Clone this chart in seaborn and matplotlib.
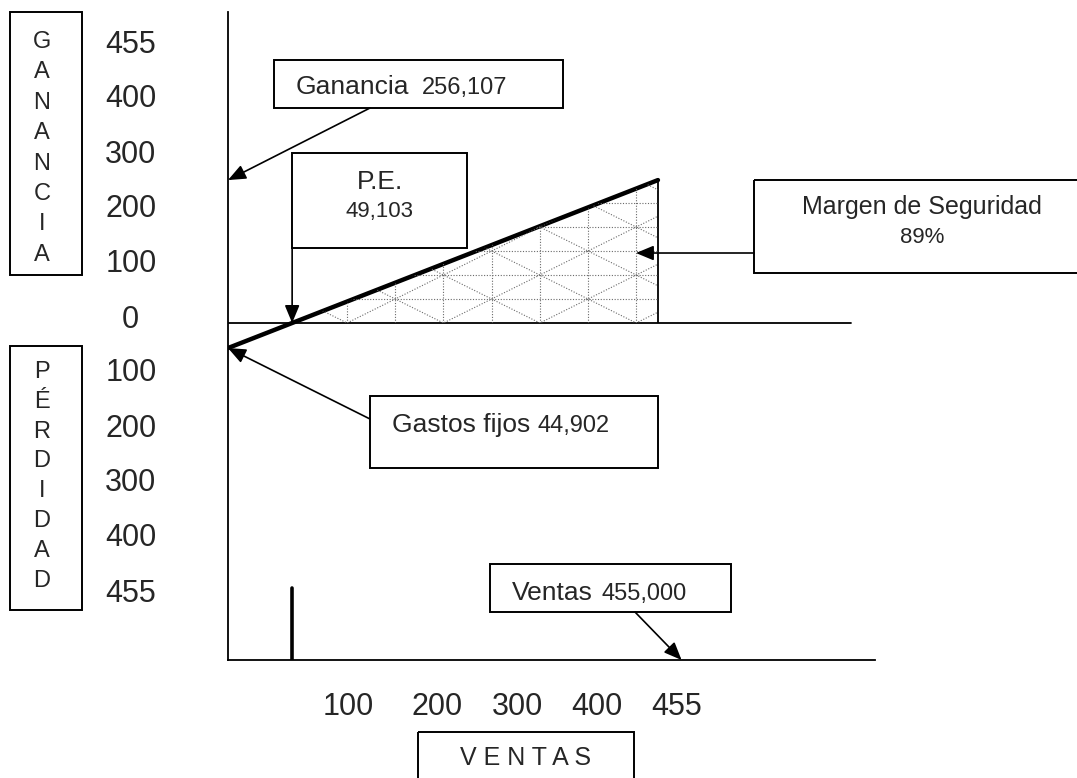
import numpy as np
import matplotlib
matplotlib.use("Agg")
import matplotlib.pyplot as plt
import seaborn as sns
from matplotlib.patches import Rectangle

# Datos del grafico (miles de pesos)
ventas = [0, 455]                  # ventas
resultado = [-44.902, 256.107]     # resultado: -gastos fijos ... ganancia
etiqueta_ganancia = "256,107"
etiqueta_pe = "49,103"
etiqueta_gastos = "44,902"
etiqueta_ventas = "455,000"
margen_seguridad = "89%"

ytick_labels = ["455", "400", "300", "200", "100", "0", "100", "200", "300", "400", "455"]
ytick_pos = [503.6, 406.8, 308.2, 209.7, 111.1, 12.5, -84.2, -182.8, -279.6, -379.9, -478.5]
xtick_labels = ["100", "200", "300", "400", "455"]
xtick_pos = [127, 221, 306, 390, 475]

# punto de equilibrio sobre la recta
pe = np.interp(0, resultado, ventas)

sns.set_theme(style="white")
plt.rcParams["font.family"] = ["Liberation Sans", "DejaVu Sans"]

fig = plt.figure(figsize=(10.77, 7.78), dpi=100)
ax = fig.add_axes([228 / 1077, 118 / 778, 647 / 1077, 648 / 778])
ax.set_facecolor("none")

# recta de resultado
sns.lineplot(x=ventas, y=resultado, ax=ax, color="black", linewidth=3.2)
ax.axhline(0, xmin=0, xmax=0.963, color="black", lw=1.3)
ax.vlines(ventas[-1], 0, resultado[-1], color="black", lw=1.3)
ax.axvline(pe, ymin=0, ymax=72 / 648, color="black", lw=2.6)

# area del margen de seguridad (trama punteada)
xs = np.array([pe, ventas[-1]])
area = ax.fill_between(xs, np.interp(xs, ventas, resultado), 0, facecolor="none", lw=0)
clip = area.get_paths()[0]
step_x, step_y, x0 = 51, 43, 126
trama = dict(color="#6a6a6a", lw=0.8, ls=(0, (1, 1.5)))
xx = np.array([0, ventas[-1]])
for k in range(1, 7):
    ln, = ax.plot(xx, [k * step_y] * 2, **trama)
    ln.set_clip_path(clip, ax.transData)
for i in range(0, 7):
    ln, = ax.plot([x0 + i * step_x] * 2, [0, resultado[-1]], **trama)
    ln.set_clip_path(clip, ax.transData)
s = step_y / step_x
for i in range(-6, 9):
    xi = x0 + i * 2 * step_x
    for sign in (1, -1):
        ln, = ax.plot(xx, sign * s * (xx - xi), **trama)
        ln.set_clip_path(clip, ax.transData)

ax.set_xlim(0, 684.7)
ax.set_ylim(-603.9, 557.3)
for side in ["top", "right"]:
    ax.spines[side].set_visible(False)
for side in ["left", "bottom"]:
    ax.spines[side].set_color("black")
    ax.spines[side].set_linewidth(1.3)

ax.set_yticks(ytick_pos, ytick_labels, fontsize=22)
ax.tick_params(axis="y", length=0, pad=70)
for lab in ax.get_yticklabels():
    lab.set_ha("center")
ax.set_xticks(xtick_pos, xtick_labels, fontsize=22)
ax.tick_params(axis="x", length=0, pad=23)
ax.set_xlabel("")
ax.set_ylabel("")

# capa de cuadros de texto en pixeles
ov = fig.add_axes([0, 0, 1, 1], zorder=3)
ov.set_xlim(0, 1077)
ov.set_ylim(778, 0)
ov.axis("off")

def caja(x, y, w, h):
    ov.add_patch(Rectangle((x, y), w, h, fill=False, edgecolor="black", lw=1.4, clip_on=False))

caja(10, 12, 72, 263)
for i, ch in enumerate("GANANCIA"):
    ov.text(42, 48 + i * 30.4, ch, ha="center", va="baseline", fontsize=17)
caja(10, 346, 72, 264)
for i, ch in enumerate("PÉRDIDAD"):
    ov.text(42, 378 + i * 29.8, ch, ha="center", va="baseline", fontsize=17)

caja(418, 732, 216, 60)
ov.text(526, 758, "V E N T A S", ha="center", va="center", fontsize=18)

caja(274, 60, 289, 48)
ov.text(296, 94, "Ganancia", va="baseline", fontsize=19)
ov.text(422, 94, etiqueta_ganancia, va="baseline", fontsize=17)

caja(292, 153, 175, 95)
ov.text(380, 182, "P.E.", ha="center", va="center", fontsize=19)
ov.text(380, 211, etiqueta_pe, ha="center", va="center", fontsize=16)

caja(754, 180, 340, 93)
ov.text(922, 207, "Margen de Seguridad", ha="center", va="center", fontsize=18)
ov.text(922, 237, margen_seguridad, ha="center", va="center", fontsize=16)

caja(370, 396, 288, 72)
ov.text(392, 432, "Gastos fijos", va="baseline", fontsize=19)
ov.text(538, 432, etiqueta_gastos, va="baseline", fontsize=17)

caja(490, 564, 241, 48)
ov.text(512, 600, "Ventas", va="baseline", fontsize=19)
ov.text(602, 600, etiqueta_ventas, va="baseline", fontsize=17)

# flechas
flecha = dict(arrowstyle="-|>,head_length=0.6,head_width=0.25", color="black",
              lw=1.2, mutation_scale=18, shrinkA=0, shrinkB=0)
ax.annotate("", xy=(0, resultado[-1]), xytext=(370, 108), textcoords=ov.transData,
            arrowprops=flecha, annotation_clip=False)
ax.annotate("", xy=(pe, 0), xytext=(pe, 134), textcoords="data",
            arrowprops=flecha, annotation_clip=False)
ax.annotate("", xy=(431.7, 125.4), xytext=(754, 253), textcoords=ov.transData,
            arrowprops=flecha, annotation_clip=False)
ax.annotate("", xy=(0, resultado[0]), xytext=(370, 419), textcoords=ov.transData,
            arrowprops=flecha, annotation_clip=False)
ax.annotate("", xy=(480, 0), xycoords=("data", "axes fraction"), xytext=(635, 612),
            textcoords=ov.transData, arrowprops=flecha, annotation_clip=False)

fig.savefig("out.png", dpi=100, facecolor="white")
